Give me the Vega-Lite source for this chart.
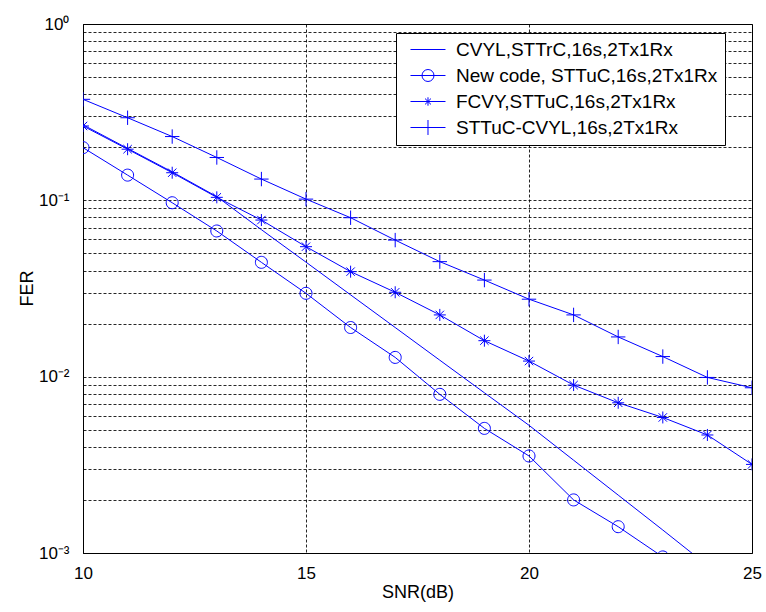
{
  "$schema": "https://vega.github.io/schema/vega-lite/v6.json",
  "width": 669,
  "height": 529,
  "autosize": {"type": "none"},
  "padding": {"left": 83, "top": 24, "right": 14, "bottom": 59},
  "background": "white",
  "config": {
    "view": {"stroke": "#000", "strokeWidth": 1},
    "axis": {
      "labelFont": "Liberation Sans",
      "titleFont": "Liberation Sans",
      "labelColor": "#000",
      "titleColor": "#000",
      "domainColor": "#000",
      "ticks": false,
      "grid": true,
      "gridColor": "#000",
      "gridDash": [3, 2],
      "gridOpacity": 0.85,
      "gridWidth": 1,
      "titleFontWeight": "normal"
    }
  },
  "data": {
    "values": [
      {"snr": 10, "fer": 0.268, "series": "CVYL,STTrC,16s,2Tx1Rx"},
      {"snr": 11, "fer": 0.197, "series": "CVYL,STTrC,16s,2Tx1Rx"},
      {"snr": 12, "fer": 0.145, "series": "CVYL,STTrC,16s,2Tx1Rx"},
      {"snr": 13, "fer": 0.105, "series": "CVYL,STTrC,16s,2Tx1Rx"},
      {"snr": 14, "fer": 0.0682, "series": "CVYL,STTrC,16s,2Tx1Rx"},
      {"snr": 15, "fer": 0.0446, "series": "CVYL,STTrC,16s,2Tx1Rx"},
      {"snr": 16, "fer": 0.0291, "series": "CVYL,STTrC,16s,2Tx1Rx"},
      {"snr": 17, "fer": 0.019, "series": "CVYL,STTrC,16s,2Tx1Rx"},
      {"snr": 18, "fer": 0.0124, "series": "CVYL,STTrC,16s,2Tx1Rx"},
      {"snr": 19, "fer": 0.0081, "series": "CVYL,STTrC,16s,2Tx1Rx"},
      {"snr": 20, "fer": 0.0053, "series": "CVYL,STTrC,16s,2Tx1Rx"},
      {"snr": 21, "fer": 0.00336, "series": "CVYL,STTrC,16s,2Tx1Rx"},
      {"snr": 22, "fer": 0.00213, "series": "CVYL,STTrC,16s,2Tx1Rx"},
      {"snr": 23, "fer": 0.00135, "series": "CVYL,STTrC,16s,2Tx1Rx"},
      {"snr": 24, "fer": 0.00085, "series": "CVYL,STTrC,16s,2Tx1Rx"},
      {"snr": 10, "fer": 0.199, "series": "New code, STTuC,16s,2Tx1Rx"},
      {"snr": 11, "fer": 0.139, "series": "New code, STTuC,16s,2Tx1Rx"},
      {"snr": 12, "fer": 0.0969, "series": "New code, STTuC,16s,2Tx1Rx"},
      {"snr": 13, "fer": 0.067, "series": "New code, STTuC,16s,2Tx1Rx"},
      {"snr": 14, "fer": 0.0445, "series": "New code, STTuC,16s,2Tx1Rx"},
      {"snr": 15, "fer": 0.0297, "series": "New code, STTuC,16s,2Tx1Rx"},
      {"snr": 16, "fer": 0.019, "series": "New code, STTuC,16s,2Tx1Rx"},
      {"snr": 17, "fer": 0.01286, "series": "New code, STTuC,16s,2Tx1Rx"},
      {"snr": 18, "fer": 0.00794, "series": "New code, STTuC,16s,2Tx1Rx"},
      {"snr": 19, "fer": 0.00509, "series": "New code, STTuC,16s,2Tx1Rx"},
      {"snr": 20, "fer": 0.00355, "series": "New code, STTuC,16s,2Tx1Rx"},
      {"snr": 21, "fer": 0.002, "series": "New code, STTuC,16s,2Tx1Rx"},
      {"snr": 22, "fer": 0.00141, "series": "New code, STTuC,16s,2Tx1Rx"},
      {"snr": 23, "fer": 0.00095, "series": "New code, STTuC,16s,2Tx1Rx"},
      {"snr": 10, "fer": 0.264, "series": "FCVY,STTuC,16s,2Tx1Rx"},
      {"snr": 11, "fer": 0.195, "series": "FCVY,STTuC,16s,2Tx1Rx"},
      {"snr": 12, "fer": 0.1434, "series": "FCVY,STTuC,16s,2Tx1Rx"},
      {"snr": 13, "fer": 0.104, "series": "FCVY,STTuC,16s,2Tx1Rx"},
      {"snr": 14, "fer": 0.0773, "series": "FCVY,STTuC,16s,2Tx1Rx"},
      {"snr": 15, "fer": 0.0546, "series": "FCVY,STTuC,16s,2Tx1Rx"},
      {"snr": 16, "fer": 0.0394, "series": "FCVY,STTuC,16s,2Tx1Rx"},
      {"snr": 17, "fer": 0.0301, "series": "FCVY,STTuC,16s,2Tx1Rx"},
      {"snr": 18, "fer": 0.0224, "series": "FCVY,STTuC,16s,2Tx1Rx"},
      {"snr": 19, "fer": 0.016, "series": "FCVY,STTuC,16s,2Tx1Rx"},
      {"snr": 20, "fer": 0.01226, "series": "FCVY,STTuC,16s,2Tx1Rx"},
      {"snr": 21, "fer": 0.00896, "series": "FCVY,STTuC,16s,2Tx1Rx"},
      {"snr": 22, "fer": 0.00711, "series": "FCVY,STTuC,16s,2Tx1Rx"},
      {"snr": 23, "fer": 0.00587, "series": "FCVY,STTuC,16s,2Tx1Rx"},
      {"snr": 24, "fer": 0.00467, "series": "FCVY,STTuC,16s,2Tx1Rx"},
      {"snr": 25, "fer": 0.00318, "series": "FCVY,STTuC,16s,2Tx1Rx"},
      {"snr": 10, "fer": 0.374, "series": "STTuC-CVYL,16s,2Tx1Rx"},
      {"snr": 11, "fer": 0.294, "series": "STTuC-CVYL,16s,2Tx1Rx"},
      {"snr": 12, "fer": 0.23, "series": "STTuC-CVYL,16s,2Tx1Rx"},
      {"snr": 13, "fer": 0.175, "series": "STTuC-CVYL,16s,2Tx1Rx"},
      {"snr": 14, "fer": 0.132, "series": "STTuC-CVYL,16s,2Tx1Rx"},
      {"snr": 15, "fer": 0.1016, "series": "STTuC-CVYL,16s,2Tx1Rx"},
      {"snr": 16, "fer": 0.0797, "series": "STTuC-CVYL,16s,2Tx1Rx"},
      {"snr": 17, "fer": 0.0595, "series": "STTuC-CVYL,16s,2Tx1Rx"},
      {"snr": 18, "fer": 0.0449, "series": "STTuC-CVYL,16s,2Tx1Rx"},
      {"snr": 19, "fer": 0.0353, "series": "STTuC-CVYL,16s,2Tx1Rx"},
      {"snr": 20, "fer": 0.0275, "series": "STTuC-CVYL,16s,2Tx1Rx"},
      {"snr": 21, "fer": 0.0224, "series": "STTuC-CVYL,16s,2Tx1Rx"},
      {"snr": 22, "fer": 0.0168, "series": "STTuC-CVYL,16s,2Tx1Rx"},
      {"snr": 23, "fer": 0.013, "series": "STTuC-CVYL,16s,2Tx1Rx"},
      {"snr": 24, "fer": 0.0099, "series": "STTuC-CVYL,16s,2Tx1Rx"},
      {"snr": 25, "fer": 0.00865, "series": "STTuC-CVYL,16s,2Tx1Rx"}
    ]
  },
  "encoding": {
    "x": {
      "field": "snr",
      "type": "quantitative",
      "scale": {"domain": [10, 25], "nice": false, "zero": false},
      "axis": {
        "values": [10, 15, 20, 25],
        "title": "SNR(dB)",
        "titleFontSize": 18,
        "titleY": 44,
        "titleBaseline": "alphabetic",
        "labelFontSize": 17,
        "labelPadding": 12,
        "labelFlush": false,
        "labelBound": false,
        "labelOverlap": false
      }
    },
    "y": {
      "field": "fer",
      "type": "quantitative",
      "scale": {"type": "log", "domain": [0.001, 1], "nice": false},
      "axis": {
        "values": [0.001, 0.002, 0.003, 0.004, 0.005, 0.006, 0.007, 0.008, 0.009, 0.01, 0.02, 0.03, 0.04, 0.05, 0.06, 0.07, 0.08, 0.09, 0.1, 0.2, 0.3, 0.4, 0.5, 0.6, 0.7, 0.8, 0.9, 1],
        "labelExpr": "abs(log(datum.value)/LN10 - round(log(datum.value)/LN10)) < 0.001 ? '10' + ['⁰','⁻¹','⁻²','⁻³'][-round(log(datum.value)/LN10)] : ''",
        "labelOverlap": false,
        "labelFontSize": 17,
        "labelPadding": 14,
        "labelBound": false,
        "title": "FER",
        "titleFontSize": 18,
        "titleX": -51,
        "titleY": 264,
        "titleAngle": 270,
        "titleAlign": "center",
        "titleBaseline": "alphabetic"
      }
    }
  },
  "layer": [
    {
      "mark": {"type": "line", "color": "#0000ff", "strokeWidth": 1, "clip": true},
      "encoding": {
        "detail": {"field": "series", "type": "nominal"},
        "order": {"field": "snr", "type": "quantitative"}
      }
    },
    {
      "transform": [{"filter": "datum.series === 'New code, STTuC,16s,2Tx1Rx'"}],
      "mark": {"type": "point", "filled": false, "color": "#0000ff", "size": 144, "strokeWidth": 1, "opacity": 1, "clip": true, "shape": "M-1,0A1,1 0 1,1 1,0A1,1 0 1,1 -1,0Z"}
    },
    {
      "transform": [{"filter": "datum.series === 'FCVY,STTuC,16s,2Tx1Rx'"}],
      "mark": {"type": "point", "filled": false, "color": "#0000ff", "size": 144, "strokeWidth": 1, "opacity": 1, "clip": true, "shape": "M-1,0H1M0,-1V1M-0.7,-0.7L0.7,0.7M-0.7,0.7L0.7,-0.7"}
    },
    {
      "transform": [{"filter": "datum.series === 'STTuC-CVYL,16s,2Tx1Rx'"}],
      "mark": {"type": "point", "filled": false, "color": "#0000ff", "size": 144, "strokeWidth": 1, "opacity": 1, "clip": true, "shape": "M-1.2,0H1.2M0,-1.2V1.2"}
    },
    {
      "transform": [{"filter": "false"}],
      "mark": {"type": "point", "filled": false, "color": "#0000ff", "strokeWidth": 1, "opacity": 1},
      "encoding": {
        "shape": {
          "field": "series",
          "type": "nominal",
          "scale": {
            "domain": ["CVYL,STTrC,16s,2Tx1Rx", "New code, STTuC,16s,2Tx1Rx", "FCVY,STTuC,16s,2Tx1Rx", "STTuC-CVYL,16s,2Tx1Rx"],
            "range": [
              "M-0.286,0H4.714",
              "M-0.286,0H4.714M1.357,0A0.857,0.857 0 1,1 3.071,0A0.857,0.857 0 1,1 1.357,0",
              "M-0.286,0H4.714M2.214,-0.6V0.6M1.79,-0.42L2.64,0.42M1.79,0.42L2.64,-0.42",
              "M-0.286,0H4.714M2.214,-1.07V1.07"
            ]
          },
          "legend": {
            "title": null,
            "orient": "none",
            "legendX": 313,
            "legendY": 9,
            "padding": 7,
            "strokeColor": "#000",
            "fillColor": "#fff",
            "cornerRadius": 0,
            "labelFont": "Liberation Sans",
            "labelFontSize": 19,
            "labelColor": "#000",
            "labelLimit": 500,
            "symbolSize": 196,
            "labelOffset": 34,
            "rowPadding": 6,
            "symbolStrokeWidth": 1,
            "symbolStrokeColor": "#0000ff",
            "symbolFillColor": "transparent",
            "symbolOpacity": 1
          }
        }
      }
    }
  ]
}
